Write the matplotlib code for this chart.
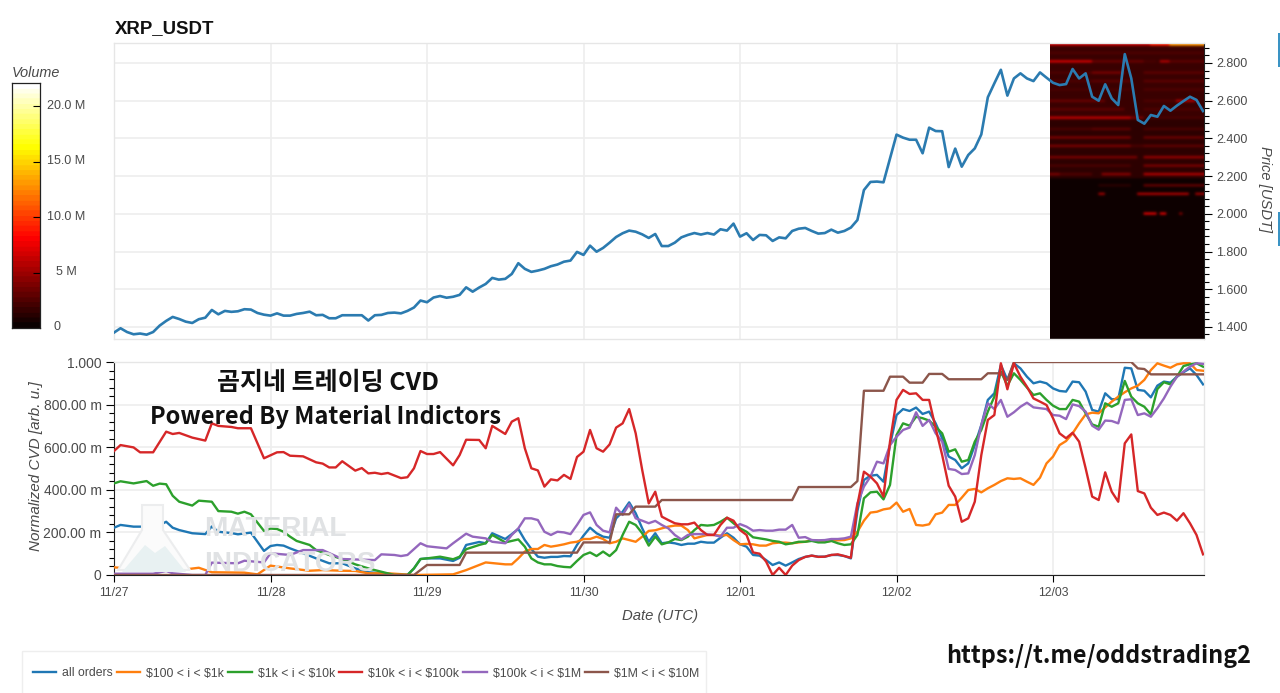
import numpy as np
import matplotlib
matplotlib.use("Agg")
import matplotlib.pyplot as plt
from matplotlib.patches import Rectangle, Polygon

W, H = 1280, 693
plt.rcParams['font.family'] = ['Liberation Sans', 'Noto Sans CJK KR', 'DejaVu Sans']
TEXT_COLOR = '#4a4a4a'
GRID_COLOR = '#eeeeee'

# x positions are hours since 11/27 00:00
DAY_LABELS = ['11/27', '11/28', '11/29', '11/30', '12/01', '12/02', '12/03']
DAY_HOURS = [0, 24, 48, 72, 96, 120, 144]

# hourly close
price = [1.370, 1.393, 1.373, 1.361, 1.365, 1.359, 1.373, 1.407, 1.432, 1.453,
         1.442, 1.428, 1.421, 1.441, 1.449, 1.490, 1.467, 1.485, 1.480, 1.483,
         1.494, 1.492, 1.474, 1.465, 1.460, 1.472, 1.460, 1.460, 1.469, 1.474,
         1.481, 1.462, 1.464, 1.446, 1.446, 1.462, 1.462, 1.462, 1.462, 1.434,
         1.462, 1.464, 1.474, 1.476, 1.472, 1.485, 1.503, 1.540, 1.531, 1.556,
         1.564, 1.555, 1.560, 1.570, 1.610, 1.587, 1.609, 1.628, 1.660, 1.651,
         1.655, 1.681, 1.738, 1.708, 1.692, 1.699, 1.708, 1.722, 1.731, 1.746,
         1.752, 1.798, 1.782, 1.831, 1.799, 1.819, 1.847, 1.877, 1.897, 1.911,
         1.905, 1.891, 1.872, 1.893, 1.829, 1.829, 1.847, 1.875, 1.888, 1.898,
         1.890, 1.898, 1.890, 1.918, 1.911, 1.948, 1.879, 1.897, 1.861, 1.888,
         1.886, 1.856, 1.875, 1.870, 1.909, 1.921, 1.925, 1.909, 1.895, 1.898,
         1.916, 1.900, 1.909, 1.927, 1.967, 2.126, 2.169, 2.171, 2.167, 2.294,
         2.420, 2.404, 2.393, 2.393, 2.321, 2.457, 2.439, 2.438, 2.248, 2.346,
         2.250, 2.312, 2.347, 2.421, 2.618, 2.692, 2.764, 2.627, 2.718, 2.745,
         2.718, 2.704, 2.750, 2.722, 2.695, 2.683, 2.688, 2.768, 2.718, 2.745,
         2.621, 2.600, 2.687, 2.612, 2.577, 2.847, 2.718, 2.498, 2.478, 2.524,
         2.515, 2.572, 2.547, 2.574, 2.598, 2.621, 2.604, 2.545]

# CVD series in milli units
HOURS_LATE = list(range(60, 168))

all_h = [0, 1, 3, 5, 6, 8, 9, 10, 12, 14, 15, 16, 18, 19, 21, 23, 24, 25, 26, 27, 29, 31, 33, 35, 37, 39, 41, 43, 45,
         46, 47, 48, 50, 52, 53, 54, 56, 57, 58] + HOURS_LATE
all_v = [222, 235, 227, 227, 218, 250, 222, 211, 196, 192, 228, 203, 197, 191, 199, 113, 136, 141, 138, 125, 102, 78,
         55, 55, 31, 13, 8, 0, 0, 31, 75, 78, 78, 66, 81, 141, 155, 149, 196,
         169, 192, 216, 164, 122, 86, 81, 85, 85, 89, 88, 141, 185, 222, 196, 180, 175, 266, 297, 341, 290, 219,
         156, 196, 149, 153, 149, 141, 147, 147, 156, 152, 152, 175, 196, 175, 144, 133, 94, 91, 70, 47, 59, 44,
         59, 75, 85, 91, 86, 86, 94, 94, 89, 78, 300, 446, 466, 470, 438, 610, 751, 779, 770, 786, 756, 767, 712,
         642, 556, 540, 501, 524, 610, 704, 822, 853, 986, 916, 994, 970, 931, 900, 908, 900, 876, 864, 861, 908,
         905, 861, 775, 767, 853, 825, 826, 973, 970, 869, 865, 834, 889, 908, 903, 931, 952, 970, 939, 895]

small_h = [0, 2, 4, 7, 9, 13, 15, 20, 22, 24, 27, 30, 32, 35, 37, 39, 42, 46, 52, 54, 57] + HOURS_LATE
small_v = [36, 31, 39, 44, 19, 34, 13, 11, 3, 44, 31, 20, 23, 20, 19, 8, 8, 0, 3, 23, 59,
           50, 50, 78, 110, 122, 122, 141, 133, 138, 144, 152, 156, 169, 169, 180, 169, 149, 156, 172, 164, 156,
           180, 207, 210, 219, 227, 232, 232, 211, 172, 180, 188, 188, 185, 188, 164, 144, 146, 144, 138, 138, 149,
           152, 152, 149, 153, 156, 164, 161, 156, 160, 163, 164, 172, 203, 255, 293, 297, 308, 313, 340, 297, 310,
           235, 232, 238, 285, 293, 329, 329, 363, 399, 404, 388, 407, 423, 441, 454, 451, 454, 438, 423, 457, 524,
           556, 610, 629, 665, 712, 754, 762, 759, 787, 814, 837, 858, 876, 889, 916, 962, 994, 983, 973, 989, 994,
           994, 962, 959]

mid_h = [0, 1, 3, 5, 6, 7, 8, 9, 10, 12, 13, 15, 16, 18, 19, 20, 21, 23, 24, 25, 26, 27, 28, 30, 31, 33, 35, 37, 39,
         40, 42, 43, 45, 46, 47, 48, 50, 52, 53, 54, 56, 57, 58] + HOURS_LATE
mid_v = [430, 440, 430, 441, 419, 429, 426, 372, 344, 326, 349, 344, 300, 297, 288, 297, 285, 207, 218, 216, 203, 180,
         160, 141, 117, 94, 75, 50, 31, 23, 8, 0, 0, 31, 75, 78, 86, 74, 86, 121, 141, 149, 188,
         153, 160, 167, 133, 78, 59, 50, 50, 42, 38, 36, 66, 94, 106, 89, 110, 89, 117, 188, 250, 235, 196, 138,
         180, 144, 153, 169, 164, 180, 211, 235, 232, 235, 250, 269, 243, 219, 203, 177, 172, 167, 160, 156, 144,
         149, 156, 156, 160, 153, 153, 160, 149, 141, 144, 188, 360, 388, 391, 355, 423, 657, 712, 701, 743, 736,
         725, 696, 665, 579, 590, 532, 540, 626, 681, 767, 837, 955, 889, 947, 916, 880, 845, 853, 822, 795, 779,
         779, 822, 814, 759, 707, 696, 806, 790, 806, 911, 837, 806, 790, 754, 873, 905, 895, 931, 981, 989, 994, 978]

large_h = [0, 1, 3, 4, 6, 8, 9, 10, 12, 14, 15, 16, 18, 19, 21, 23, 25, 26, 27, 29, 31, 32, 33, 34, 35, 37, 38, 39,
           40, 41, 42, 44, 45, 46, 47, 48, 49, 50, 52, 53, 54, 56, 57, 58] + HOURS_LATE
large_v = [582, 610, 599, 576, 576, 673, 662, 667, 645, 631, 712, 700, 695, 689, 689, 548, 576, 577, 560, 557, 529,
           523, 505, 505, 534, 490, 502, 477, 480, 474, 479, 455, 459, 501, 582, 568, 568, 577, 515, 563, 635, 634,
           595, 700,
           662, 720, 736, 595, 501, 491, 415, 449, 444, 470, 451, 554, 579, 681, 595, 579, 613, 692, 712, 779, 665,
           493, 336, 391, 274, 258, 243, 238, 238, 246, 211, 188, 188, 235, 269, 255, 211, 188, 106, 100, 63, 0, 34,
           0, 44, 70, 85, 91, 85, 86, 94, 97, 89, 81, 329, 485, 462, 430, 368, 626, 822, 869, 850, 853, 822, 822,
           689, 563, 419, 368, 250, 266, 344, 563, 728, 751, 994, 872, 994, 931, 884, 829, 814, 798, 736, 665, 642,
           668, 626, 501, 368, 352, 482, 391, 344, 618, 660, 394, 383, 316, 282, 293, 282, 255, 290, 243, 188, 97]

whale_h = [0, 6, 8, 9, 12, 14, 15, 19, 20, 23, 24, 27, 29, 32, 35, 40, 41, 43, 44, 45, 47, 48, 51, 52, 54, 55, 57,
           58] + HOURS_LATE
whale_v = [6, 6, 19, 8, 0, 0, 58, 55, 67, 59, 102, 94, 117, 117, 75, 70, 97, 94, 89, 94, 149, 135, 125, 149, 194,
           180, 172, 156,
           149, 188, 219, 266, 266, 258, 203, 188, 203, 200, 192, 235, 282, 294, 235, 208, 200, 316, 282, 332, 266,
           255, 243, 254, 235, 219, 188, 167, 188, 192, 192, 191, 188, 180, 222, 222, 239, 227, 208, 211, 208, 208,
           213, 213, 235, 175, 178, 164, 163, 164, 169, 169, 172, 180, 336, 415, 462, 532, 524, 610, 649, 681, 692,
           764, 700, 728, 665, 626, 498, 493, 474, 477, 563, 704, 806, 779, 822, 743, 764, 790, 809, 787, 783, 779,
           751, 748, 732, 801, 793, 767, 701, 682, 725, 723, 712, 822, 825, 751, 759, 743, 783, 829, 884, 931, 955,
           978, 994, 991]

mega_h = [0, 46, 48, 53, 54, 71, 72, 76, 77, 79, 80, 83, 84, 104, 105, 113, 114, 115, 118, 119, 121, 122, 124, 125,
          127, 128, 133, 134, 136, 137, 138, 156, 157, 158, 159, 167]
mega_v = [0, 0, 47, 47, 105, 105, 153, 153, 285, 285, 321, 321, 352, 352, 413, 413, 441, 865, 865, 931, 931, 903,
          903, 944, 944, 919, 919, 947, 947, 915, 1000, 1000, 970, 967, 942, 942]

series_labels = [r'all orders', r'\$100 < i < \$1k', r'\$1k < i < \$10k', r'\$10k < i < \$100k',
                 r'\$100k < i < \$1M', r'\$1M < i < \$10M']
series_colors = ['#1f77b4', '#ff7f0e', '#2ca02c', '#d62728', '#9467bd', '#8c564b']

# order book heatmap (volume in millions), one entry per resting wall
heat_start = 143.5
wall_price = [2.90, 2.90, 2.90, 2.85, 2.80, 2.80, 2.80, 2.80, 2.80, 2.75, 2.75, 2.75, 2.70, 2.70, 2.70, 2.65, 2.65,
              2.65, 2.60, 2.60, 2.60, 2.55, 2.55, 2.50, 2.50, 2.50, 2.45, 2.45, 2.45, 2.40, 2.40, 2.35, 2.35, 2.35,
              2.30, 2.30, 2.25, 2.25, 2.20, 2.20, 2.20, 2.20, 2.15, 2.15, 2.10, 2.10, 2.10, 2.00, 2.00, 2.00]
wall_from = [143.5, 158.7, 161.8, 143.5, 143.5, 150, 158, 160.5, 162, 143.5, 150, 158, 143.5, 150, 158, 143.5, 152,
             158, 143.5, 158, 163, 143.5, 158, 143.5, 156, 159, 143.5, 150, 158, 143.5, 158, 143.5, 156, 158,
             143.5, 158, 143.5, 158, 143.5, 145, 151.5, 158, 151, 158, 150.8, 157, 165.8, 157.6, 160.1, 163.5]
wall_to = [158.7, 161.8, 167.2, 167.2, 150, 158, 160, 162, 167.2, 150, 155, 167.2, 150, 156, 167.2, 150, 156, 167.2,
           152, 163, 166, 155, 167.2, 156, 158, 167.2, 150, 156, 167.2, 156, 167.2, 156, 158, 167.2, 157, 167.2,
           156, 167.2, 145, 150, 156, 167.2, 156, 167.2, 151.9, 164.7, 167.2, 159.9, 161.5, 164]
wall_volume = [6, 9, 13, 2.2, 6, 3, 2, 5, 2.6, 2.2, 3.4, 2.6, 2.2, 2.6, 2.6, 2, 2, 2.2, 3, 2.2, 5, 2.6, 2.2, 5.5, 3.4,
               2, 2, 2.6, 2, 3.4, 3, 3.4, 2, 2.6, 3.4, 4.2, 2, 3.4, 3.4, 2.2, 3.8, 5, 1, 2.6, 4.2, 4.6, 4.2, 6, 6, 3.4]
background_floor = [1.30, 2.18, 2.50]
background_volume = [0.1, 1.2, 1.6]

PRICE_TICKS = [1.4, 1.6, 1.8, 2.0, 2.2, 2.4, 2.6, 2.8]
CVD_TICKS = [0, 200, 400, 600, 800, 1000]
CVD_TICK_LABELS = ['0', '200.00 m', '400.00 m', '600.00 m', '800.00 m', '1.000']
VOLUME_TICKS = [0, 5, 10, 15, 20]
VOLUME_TICK_LABELS = ['0', '5 M', '10.0 M', '15.0 M', '20.0 M']
VOLUME_MAX = 22.1


def px_rect(left, top, right, bottom):
    return [left / W, 1 - bottom / H, (right - left) / W, (bottom - top) / H]


def fx(x):
    return x / W


def fy(y):
    return 1 - y / H


def style_spines(ax, dark):
    for side, spine in ax.spines.items():
        spine.set_color('#222222' if side in dark else '#e6e6e6')
        spine.set_linewidth(0.8 if side in dark else 1.0)


fig = plt.figure(figsize=(W / 100, H / 100), dpi=100)

# Price panel
ax_price = fig.add_axes(px_rect(114, 43, 1204, 339))
price_min, price_max = 1.336, 2.906
ax_price.set_axisbelow(True)
ax_price.grid(True, color=GRID_COLOR, linewidth=1.2)
ax_price.set_xticks(DAY_HOURS)
ax_price.tick_params(axis='x', length=0, labelbottom=False)
ax_price.yaxis.tick_right()
ax_price.yaxis.set_label_position('right')
ax_price.set_yticks(PRICE_TICKS)
ax_price.set_yticklabels(['%.3f' % p for p in PRICE_TICKS])
ax_price.set_yticks([p / 100 for p in range(136, 292, 4)], minor=True)
ax_price.tick_params(axis='y', which='major', length=6, width=0.8, labelsize=9, labelcolor=TEXT_COLOR, pad=3)
ax_price.tick_params(axis='y', which='minor', length=3.5, width=0.8)
style_spines(ax_price, ['right'])

# Build the heatmap matrix from the wall table
bin_size = 0.015
columns = np.arange(heat_start, 167.2, 0.5)
rows = np.arange(price_min, price_max, bin_size)
heat = np.zeros((len(rows), len(columns)))
for floor, level in zip(background_floor, background_volume):
    heat[rows >= floor, :] = level
for p, t0, t1, vol in zip(wall_price, wall_from, wall_to, wall_volume):
    row = np.argmin(np.abs(rows - p))
    heat[row, (columns >= t0) & (columns < t1)] = vol
ax_price.imshow(heat, origin='lower', aspect='auto', cmap='hot', vmin=0, vmax=VOLUME_MAX, interpolation='gaussian',
                extent=(heat_start, 167.15, price_min, price_max), zorder=2)
ax_price.set_xlim(0, 167.15)
ax_price.set_ylim(price_min, price_max)

ax_price.plot(range(len(price)), price, color='#2b7bb0', linewidth=1.9, zorder=3)
ax_price.set_ylabel('Price [USDT]', rotation=-90, style='italic', fontsize=10.6, color=TEXT_COLOR)
ax_price.yaxis.set_label_coords(1.0 + 68 / 1090, 0.507)
fig.text(fx(114.5), fy(33), 'XRP_USDT', fontsize=13.4, fontweight='bold', color='#111111', ha='left', va='baseline')

# CVD panel
ax_cvd = fig.add_axes(px_rect(114, 362, 1204, 575))
ax_cvd.set_xlim(0, 167.15)
ax_cvd.set_ylim(0, 1000)
ax_cvd.set_axisbelow(True)
ax_cvd.grid(True, color=GRID_COLOR, linewidth=1.2)
ax_cvd.patch.set_alpha(0)

# Watermark sits under the lines
fig.add_artist(Polygon([(fx(118), fy(570)), (fx(142), fy(530)), (fx(142), fy(505)), (fx(163), fy(505)),
                        (fx(163), fy(530)), (fx(190), fy(570))], closed=True, facecolor='#fbfbfb',
                       edgecolor='#ecedee', linewidth=1.5, transform=fig.transFigure, zorder=0.2))
fig.add_artist(Polygon([(fx(122), fy(572)), (fx(145), fy(545)), (fx(155), fy(553)), (fx(165), fy(546)),
                        (fx(186), fy(572))], closed=True, facecolor='#e8f1f2', edgecolor='none',
                       transform=fig.transFigure, zorder=0.3))
fig.text(fx(204), fy(536), 'MATERIAL', fontsize=20.2, fontweight='bold', color='#e0e2e4', zorder=0.4)
fig.text(fx(204), fy(571), 'INDICATORS', fontsize=20.2, fontweight='bold', color='#e0e2e4', zorder=0.4)

series_h = [all_h, small_h, mid_h, large_h, whale_h, mega_h]
series_v = [all_v, small_v, mid_v, large_v, whale_v, mega_v]
series_z = [3, 3, 3, 6, 4, 5]
lines = []
for hours, values, label, color, z in zip(series_h, series_v, series_labels, series_colors, series_z):
    line, = ax_cvd.plot(hours, values, color=color, linewidth=1.7, label=label, zorder=z)
    lines.append(line)

ax_cvd.set_xticks(DAY_HOURS)
ax_cvd.set_xticklabels(DAY_LABELS)
ax_cvd.set_yticks(CVD_TICKS)
ax_cvd.set_yticklabels(CVD_TICK_LABELS)
ax_cvd.set_yticks(range(0, 1001, 40), minor=True)
ax_cvd.tick_params(axis='x', length=5, width=0.8, labelsize=8.8, labelcolor=TEXT_COLOR, pad=3.5)
ax_cvd.tick_params(axis='y', which='major', length=6, width=0.8, labelsize=10, labelcolor=TEXT_COLOR, pad=3)
ax_cvd.tick_params(axis='y', which='minor', length=3.5, width=0.8)
style_spines(ax_cvd, ['left', 'bottom'])
ax_cvd.set_xlabel('Date (UTC)', style='italic', fontsize=10.7, color=TEXT_COLOR)
ax_cvd.xaxis.set_label_coords((660 - 114) / 1090, -(609 - 575) / 213)
ax_cvd.set_ylabel('Normalized CVD [arb. u.]', style='italic', fontsize=11, color=TEXT_COLOR)
ax_cvd.yaxis.set_label_coords(-(114 - 43) / 1090, 0.51)

# Volume colour bar
ax_bar = fig.add_axes(px_rect(12, 83, 40, 328))
gradient = np.linspace(0, VOLUME_MAX, 256).reshape(-1, 1)
ax_bar.imshow(gradient, origin='lower', aspect='auto', cmap=plt.get_cmap('hot', 48), vmin=0, vmax=VOLUME_MAX,
              extent=(0, 1, 0, VOLUME_MAX))
ax_bar.set_xticks([])
ax_bar.yaxis.tick_right()
ax_bar.set_yticks(VOLUME_TICKS[1:])
ax_bar.set_yticklabels([])
ax_bar.tick_params(axis='y', direction='in', length=5, width=0.8)
for spine in ax_bar.spines.values():
    spine.set_color('#222222')
    spine.set_linewidth(0.9)
for tick, label, x_px in zip(VOLUME_TICKS, VOLUME_TICK_LABELS, [57, 66, 66, 66, 66]):
    ax_bar.annotate(label, xy=(1, tick + 0.05), xycoords=('axes fraction', 'data'), xytext=((x_px - 40) * 0.72, 0),
                    textcoords='offset points', ha='center', va='center', fontsize=9, color=TEXT_COLOR)
fig.text(fx(12), fy(77), 'Volume', style='italic', fontsize=10.4, color=TEXT_COLOR, ha='left', va='baseline')

# Legend box runs off the bottom of the picture
fig.add_artist(Rectangle((fx(22), fy(700)), (706 - 22) / W, (700 - 651) / H, facecolor='white', edgecolor='#eeeeee',
                         linewidth=1, transform=fig.transFigure, zorder=0))
fig.legend(handles=lines, ncol=6, loc='center left', bbox_to_anchor=(fx(33), fy(673.5)), frameon=False, fontsize=8.8,
           labelcolor=TEXT_COLOR, handlelength=1.9, handletextpad=0.5, columnspacing=0.33, borderpad=0, borderaxespad=0)

# Text pasted over the chart
OVERLAY_FONT = ['Noto Sans CJK KR', 'DejaVu Sans']
fig.text(fx(328), fy(383), '곰지네 트레이딩 CVD', family=OVERLAY_FONT, fontsize=18, fontweight='bold', color='#111111',
         ha='center', va='center', zorder=10)
fig.text(fx(325), fy(417), 'Powered By Material Indictors', family=OVERLAY_FONT, fontsize=17, fontweight='bold',
         color='#111111', ha='center', va='center', zorder=10)
fig.text(fx(1098.5), fy(656), 'https://t.me/oddstrading2', family=OVERLAY_FONT, fontsize=16.8, fontweight='bold',
         color='#111111', ha='center', va='center', zorder=10)

# Blue slivers on the right edge of the screenshot
for top, bottom in [(33, 67), (212, 246)]:
    fig.add_artist(Rectangle((fx(1278), fy(bottom)), 2 / W, (bottom - top) / H, facecolor='#3a93c4', edgecolor='none',
                             transform=fig.transFigure))

fig.savefig('out.png', dpi=100)
